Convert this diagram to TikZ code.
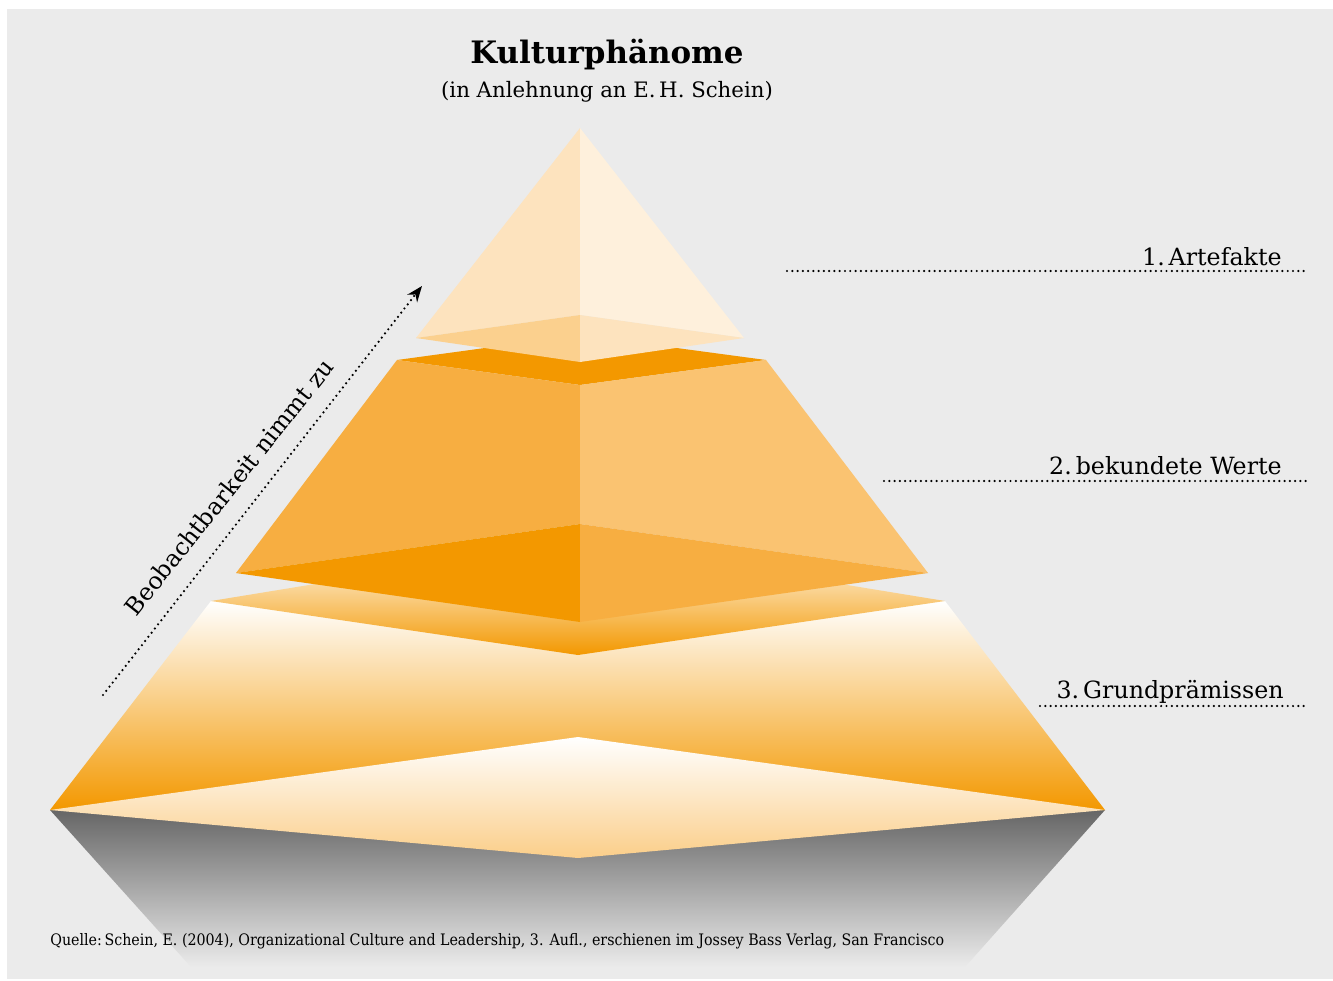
\documentclass[tikz,border=0pt]{standalone}
\usepackage{fontspec}
\setmainfont{DejaVu Serif}
\newfontfamily\condserif{DejaVu Serif Condensed}
\usetikzlibrary{arrows.meta}

\definecolor{bgray}{HTML}{EBEBEB}
\definecolor{orDark}{HTML}{F39800}
\definecolor{orMid}{HTML}{F7AE41}
\definecolor{orLight}{HTML}{FAC371}
\definecolor{peach}{HTML}{FDE3BE}
\definecolor{peachPale}{HTML}{FEF0DC}
\definecolor{peachDeep}{HTML}{FBD08E}

\tikzset{
  face/.style={draw=none},
  levellabel/.style={anchor=base east, inner sep=0pt, font=\fontsize{13.5}{16}\selectfont},
  guide/.style={line width=1.4pt, dash pattern=on 0pt off 3pt, line cap=round},
}

\begin{document}
\begin{tikzpicture}[x=0.02cm, y=-0.02cm]
  % page and backdrop
  \fill[white] (0,0) rectangle (1333,981);
  \fill[bgray] (7,9) rectangle (1333,979);
  \useasboundingbox (0,0) rectangle (1333,981);

  % shadow under the base
  \shade[face, top color=black!60, bottom color=bgray]
    (50,810) -- (1105,810) -- (965,967) -- (191,967) -- cycle;

  % level 3: base frustum
  \shade[face, top color=white, middle color=orange!8!peachDeep, bottom color=orDark]
    (211,601) -- (945,601) -- (1105,810) -- (50,810) -- cycle;
  \shade[face, top color=white, bottom color=peachDeep!85!orLight]
    (50,810) -- (578,737) -- (1105,810) -- (578,858) -- cycle;
  \shade[face, top color=white, middle color=peach, bottom color=orDark]
    (211,601) -- (578,541) -- (945,601) -- (578,655) -- cycle;

  % level 2: middle frustum
  \fill[orDark]   (397,360) -- (580,335) -- (766,360) -- (580,385) -- cycle;
  \fill[orMid]    (397,360) -- (580,385) -- (580,524) -- (236,573) -- cycle;
  \fill[orLight]  (580,385) -- (766,360) -- (928,573) -- (580,524) -- cycle;
  \fill[orDark]   (236,573) -- (580,524) -- (580,622) -- cycle;
  \fill[orMid]    (580,524) -- (928,573) -- (580,622) -- cycle;

  % level 1: top pyramid
  \fill[peach]     (580,128) -- (416,338) -- (580,315) -- cycle;
  \fill[peachPale] (580,128) -- (580,315) -- (744,338) -- cycle;
  \fill[peachDeep] (416,338) -- (580,315) -- (580,362) -- cycle;
  \fill[peach]     (580,315) -- (744,338) -- (580,362) -- cycle;

  % title
  \node[font=\bfseries\fontsize{17.6}{20}\selectfont] (title) at (607,55) {Kulturphänome};
  \node[font=\fontsize{12.1}{14}\selectfont] (subtitle) at (607,92) {(in Anlehnung an E.\,H. Schein)};

  % level labels with dotted guides
  \coordinate (g1a) at (787,271);  \coordinate (g1b) at (1306,271);
  \coordinate (g2a) at (884,481);  \coordinate (g2b) at (1306,481);
  \coordinate (g3a) at (1040,706); \coordinate (g3b) at (1308,706);
  \draw[guide] (g1a) -- (g1b);
  \draw[guide] (g2a) -- (g2b);
  \draw[guide] (g3a) -- (g3b);
  \node[levellabel] (lab1) at (1282,265) {1.\,Artefakte};
  \node[levellabel] (lab2) at (1282,474) {2.\,bekundete Werte};
  \node[levellabel] (lab3) at (1284,698) {3.\,Grundprämissen};

  % observability arrow
  \coordinate (arrLow) at (103,695);
  \coordinate (arrHigh) at (422,286);
  \draw[guide, -{Stealth[length=9pt, width=7pt]}] (arrLow) -- (arrHigh);
  \node[rotate=51.5, font=\fontsize{13.5}{16}\selectfont] (obs) at (229,487) {Beobachtbarkeit nimmt zu};

  % source line
  \node[anchor=base west, inner sep=0pt, font=\condserif\fontsize{9}{11}\selectfont] (source) at (50,945)
    {Quelle:\,Schein, E. (2004), Organizational Culture and Leadership, 3. Aufl., erschienen im Jossey Bass Verlag, San Francisco};
\end{tikzpicture}
\end{document}
